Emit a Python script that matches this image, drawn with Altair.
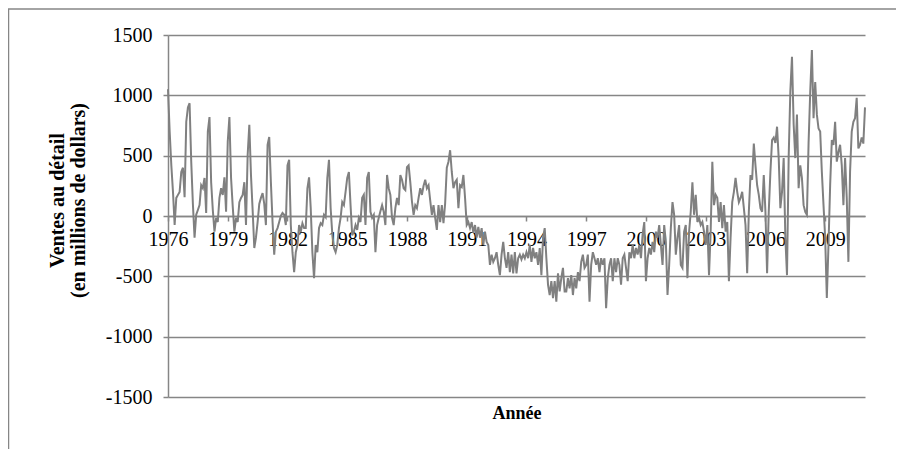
import altair as alt
import pandas as pd

# Monthly values (millions of dollars), Jan 1976 -> Jan 2011
ventes_1976_1980 = [
    1050, 700, 420, 200, -75, 150, 175, 200, 365, 400, 155, 780,
    900, 935, 450, 100, -180, 10, 50, 90, 255, 230, 315, 25,
    700, 820, 280, 50, -130, -15, -50, 150, 230, 175, 320, 35,
    615, 820, 315, 80, -130, -15, -50, 115, 150, 175, 280, -75,
    505, 755, 340, 50, -265, -180, -50, 100, 150, 190, 100, -75,
]
ventes_1981_1985 = [
    590, 655, 280, -50, -320, -130, -100, -50, 0, 25, 10, -75,
    420, 465, -75, -300, -465, -300, -240, -75, -130, -60, -100, -100,
    230, 320, 65, -300, -515, -240, -300, -100, -60, -75, 10, -10,
    315, 465, 65, -150, -265, -300, -240, -100, -15, 115, 90, 200,
    315, 365, 90, -160, -130, -75, -115, -15, -50, 150, 175, -75,
]
ventes_1986_1990 = [
    315, 365, 35, -15, 10, -300, -75, -15, 40, 90, 35, -75,
    340, 230, 175, -15, -75, 65, 150, 90, 340, 300, 230, 215,
    405, 420, 280, 120, 10, 90, 65, 150, 230, 175, 250, 300,
    230, 255, 130, 10, 90, -15, -115, 90, -50, 90, -60, 105,
    400, 450, 545, 365, 230, 280, 300, 65, 255, 240, 340, 150,
]
ventes_1991_1995 = [
    -75, -50, -100, -50, -140, -75, -180, -90, -180, -100, -240, -130,
    -215, -240, -405, -320, -380, -350, -300, -405, -490, -320, -215, -350,
    -430, -300, -465, -320, -475, -300, -475, -350, -320, -360, -320, -350,
    -300, -350, -240, -380, -265, -350, -300, -405, -265, -490, -180, -100,
    -350, -570, -655, -540, -680, -540, -710, -475, -625, -515, -430, -625,
]
ventes_1996_2000 = [
    -625, -515, -600, -490, -655, -515, -600, -465, -540, -380, -320, -430,
    -405, -320, -710, -405, -300, -350, -405, -350, -465, -350, -405, -350,
    -765, -515, -405, -350, -540, -350, -465, -350, -405, -570, -350, -320,
    -430, -540, -300, -350, -240, -350, -265, -320, -240, -350, -150, -50,
    -540, -350, -265, -320, -215, -300, -130, -180, -75, -240, -405, -75,
]
ventes_2001_2005 = [
    -215, -655, -405, -100, 115, 10, -320, -180, -75, -405, -430, -130,
    -75, -515, -130, 35, 280, 10, 175, -50, -15, -75, -50, -130,
    -240, -75, -490, -130, 450, 90, 175, 150, -50, 115, -100, 90,
    -130, -50, -540, -180, 115, 200, 315, 200, 115, 150, 200, 65,
    -75, -475, 35, 340, 300, 600, 420, 255, 175, 65, 35, 340,
]
ventes_2006_2011 = [
    35, -475, 35, 365, 630, 650, 605, 740, 480, 65, 200, 480,
    -180, -490, 480, 1030, 1320, 760, 480, 840, 230, 420, 315, 90,
    35, 10, 605, 1030, 1375, 810, 1110, 840, 725, 700, 365, 90,
    -180, -680, -240, 255, 630, 590, 780, 450, 530, 590, 420, 90,
    480, 150, -380, 365, 700, 780, 810, 980, 560, 590, 650, 600,
    900,
]

etiquettes_annees = [1976, 1979, 1982, 1985, 1988, 1991, 1994, 1997, 2000, 2003, 2006, 2009]
graduations_y = [-1500, -1000, -500, 0, 500, 1000, 1500]

ventes = (ventes_1976_1980 + ventes_1981_1985 + ventes_1986_1990 + ventes_1991_1995
          + ventes_1996_2000 + ventes_2001_2005 + ventes_2006_2011)
annee = [1976 + i / 12 for i in range(len(ventes))]
df = pd.DataFrame({"annee": annee, "ventes": ventes})

W, H = 697, 362
GRAY = "#868686"
FONT = "Liberation Serif"

line = alt.Chart(df).mark_line(color="#808080", strokeWidth=2).encode(
    x=alt.X(
        "annee:Q",
        scale=alt.Scale(domain=[1976, 2011], nice=False, zero=False),
        axis=alt.Axis(
            values=etiquettes_annees, format="d", title="Année", offset=-H / 2,
            grid=False, domainColor=GRAY, domainWidth=1.5, tickColor=GRAY, tickWidth=1.5,
            tickSize=5, labelFont=FONT, labelFontSize=20, labelColor="black",
            labelPadding=8, labelFlush=False, labelOverlap=False,
            titleFont=FONT, titleFontSize=18, titleFontWeight="bold", titleColor="black",
            titleY=197, titleBaseline="middle",
        ),
    ),
    y=alt.Y(
        "ventes:Q",
        scale=alt.Scale(domain=[-1500, 1500], nice=False),
        axis=alt.Axis(
            values=graduations_y, labelExpr="'' + datum.value",
            title=["Ventes au détail", "(en millions de dollars)"],
            grid=True, gridColor=GRAY, gridWidth=1.5,
            domainColor=GRAY, domainWidth=1.5, tickColor=GRAY, tickWidth=1.5, tickSize=5,
            labelFont=FONT, labelFontSize=20, labelColor="black", labelPadding=11,
            titleFont=FONT, titleFontSize=20, titleFontWeight="bold", titleColor="black",
            titleLineHeight=21, titleAngle=270, titleAlign="center", titleBaseline="bottom",
            titleX=-101, titleY=165,
        ),
    ),
)

frame_src = pd.DataFrame({"k": [0]})
top_border = alt.Chart(frame_src).mark_rule(color=GRAY, strokeWidth=1.5).encode(
    x=alt.value(-160), x2=alt.value(W + 31), y=alt.value(-26)
)
left_border = alt.Chart(frame_src).mark_rule(color=GRAY, strokeWidth=1.5).encode(
    x=alt.value(-159.5), y=alt.value(-26), y2=alt.value(H + 52)
)

chart = alt.layer(line, top_border, left_border).properties(
    width=W, height=H,
    autosize=alt.AutoSizeParams(type="none"),
    padding={"left": 160, "top": 27, "right": 31, "bottom": 52},
    background="white",
).configure_view(stroke=None)

chart.save("out.html", embed_options={"renderer": "svg", "actions": False})
